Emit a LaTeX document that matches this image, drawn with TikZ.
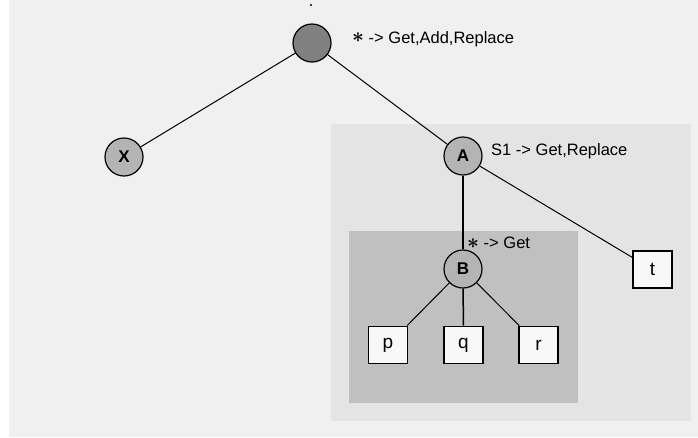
\documentclass[tikz,border=0pt]{standalone}
\usepackage{fontspec}
\setmainfont{Liberation Sans}
\definecolor{bgout}{HTML}{F0F0F0}
\definecolor{bgmid}{HTML}{E4E4E4}
\definecolor{bgin}{HTML}{C0C0C0}
\definecolor{rootfill}{HTML}{808080}
\definecolor{nodefill}{HTML}{B4B4B4}
\definecolor{leaffill}{HTML}{F8F8F8}
\newcommand{\bigast}{{\fontsize{21}{21}\selectfont\boldmath\raisebox{0.5pt}{$\ast$}}}
\begin{document}
\begin{tikzpicture}[x=1pt,y=-1pt,
  inner/.style={circle,draw=black,line width=1.2pt,fill=nodefill,minimum size=38pt,inner sep=0pt,font=\fontsize{17}{17}\selectfont\bfseries},
  rootnode/.style={inner,fill=rootfill},
  leaf/.style={rectangle,draw=black,line width=1.8pt,fill=leaffill,minimum width=39pt,minimum height=37pt,inner sep=0pt,font=\fontsize{19}{19}\selectfont},
  edge/.style={draw=black,line width=1pt},
  lbl/.style={anchor=west,inner sep=0pt,font=\fontsize{16.5}{16.5}\selectfont}]
\useasboundingbox (0,0) rectangle (698,437);
\fill[bgout] (9,0) rectangle (698,437);
\fill[bgmid] (331,124) rectangle (691,421);
\fill[bgin] (349,231) rectangle (578,403);
\fill[black] (311,5) circle (1.2pt);
\node[rootnode] (root) at (312,43) {};
\node[inner] (X) at (124,157) {X};
\node[inner] (A) at (463,156) {A};
\node[inner] (B) at (463,269) {B};
\node[leaf] (p) at (388,345) {p};
\node[leaf] (q) at (463.5,345) {q};
\node[leaf] (r) at (538.5,345) {r};
\node[leaf] (t) at (652.5,269.5) {t};
\draw[edge] (root) -- (X);
\draw[edge] (root) -- (A);
\draw[edge,line width=1.5pt] (A) -- (B);
\draw[edge] (A) -- (t);
\draw[edge] (B) -- (p);
\draw[edge,line width=1.5pt] (B) -- (q);
\draw[edge] (B) -- (r);
\node[lbl] (lroot) at (352,39) {\bigast{} -> Get,Add,Replace};
\node[lbl] (lA) at (491,151) {S1 -> Get,Replace};
\node[lbl] (lB) at (467,243) {\bigast{} -> Get};
\end{tikzpicture}
\end{document}
